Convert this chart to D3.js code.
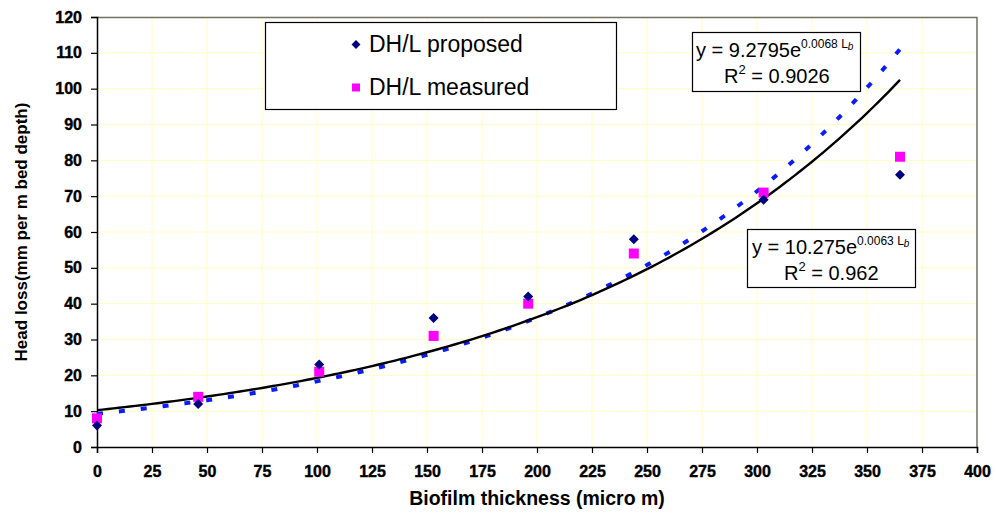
<!DOCTYPE html>
<html>
<head>
<meta charset="utf-8">
<script src="https://cdn.jsdelivr.net/npm/d3@7"></script>
<style>
  body { margin: 0; background: #fff; }
  text { font-family: 'Liberation Sans', Arial, sans-serif; }
</style>
</head>
<body>
<div id="chart"></div>
<script>
// data
const thickness = [0, 46, 101, 153, 196, 244, 303, 365]
const proposed = [6, 12, 23, 36, 42, 58, 69, 76]
const measured = [8, 14, 21, 31, 40, 54, 71, 81]

// exponential fits shown in the boxes
const fitProposed = { a: 9.2795, b: 0.0068, r2: '0.9026' }
const fitMeasured = { a: 10.275, b: 0.0063, r2: '0.962' }

const xTicks = d3.range(0, 401, 25)
const yTicks = d3.range(0, 121, 10)

const W = 996
const H = 514
const margin = { top: 17, right: 19, bottom: 67, left: 97 }
const width = W - margin.left - margin.right
const height = H - margin.top - margin.bottom

const svg = d3.select('#chart')
  .append('svg')
  .attr('width', W)
  .attr('height', H)

const g = svg.append('g')
  .attr('transform', `translate(${margin.left},${margin.top})`)

const x = d3.scaleLinear().domain([0, 400]).range([0, width])
const y = d3.scaleLinear().domain([0, 120]).range([height, 0])

// grid
g.append('g')
  .selectAll('line')
  .data(yTicks.slice(1))
  .enter()
  .append('line')
  .attr('x1', 0).attr('x2', width)
  .attr('y1', d => y(d)).attr('y2', d => y(d))
  .attr('stroke', '#ffffc0')
g.append('g')
  .selectAll('line')
  .data(xTicks.slice(1))
  .enter()
  .append('line')
  .attr('y1', 0).attr('y2', height)
  .attr('x1', d => x(d)).attr('x2', d => x(d))
  .attr('stroke', '#ffffc0')

// top / right border
g.append('path')
  .attr('d', `M0,0.5H${width}V${height}`)
  .attr('fill', 'none')
  .attr('stroke', '#707070')
  .attr('stroke-width', 1.5)

// axes
const xAxis = g.append('g')
  .attr('transform', `translate(0,${height})`)
  .call(d3.axisBottom(x).tickValues(xTicks).tickSize(6).tickPadding(13))
const yAxis = g.append('g')
  .call(d3.axisLeft(y).tickValues(yTicks).tickSize(6).tickPadding(9))

;[xAxis, yAxis].forEach(a => {
  a.select('.domain').attr('stroke', '#000').attr('stroke-width', 1.5)
  a.selectAll('.tick line').attr('stroke', '#000').attr('stroke-width', 1.2)
  a.selectAll('.tick text')
    .attr('font-family', 'Liberation Sans, Arial, sans-serif')
    .attr('font-size', 16)
    .attr('font-weight', 'bold')
    .attr('fill', '#000')
    .attr('stroke', '#000')
    .attr('stroke-width', 0.4)
})
xAxis.selectAll('.tick text').attr('dy', '0.71em')

// trend lines
const curve = fit => d3.range(0, 365.01, 2.5).map(t => [t, fit.a * Math.exp(fit.b * t)])
const line = d3.line().x(d => x(d[0])).y(d => y(d[1]))

g.append('path')
  .datum(curve(fitProposed))
  .attr('d', line)
  .attr('fill', 'none')
  .attr('stroke', '#0a1cff')
  .attr('stroke-width', 4)
  .attr('stroke-dasharray', '6,16')

g.append('path')
  .datum(curve(fitMeasured))
  .attr('d', line)
  .attr('fill', 'none')
  .attr('stroke', '#000')
  .attr('stroke-width', 2.4)

// markers
const pts = thickness.map((t, i) => ({ t, p: proposed[i], m: measured[i] }))

g.selectAll('.sq')
  .data(pts)
  .enter()
  .append('rect')
  .attr('class', 'sq')
  .attr('x', d => x(d.t) - 5)
  .attr('y', d => y(d.m) - 5)
  .attr('width', 10)
  .attr('height', 10)
  .attr('fill', '#ff00ff')

g.selectAll('.dia')
  .data(pts)
  .enter()
  .append('path')
  .attr('class', 'dia')
  .attr('d', d3.symbol(d3.symbolDiamond2, 64))
  .attr('transform', d => `translate(${x(d.t)},${y(d.p)})`)
  .attr('fill', '#000080')

// legend
const legend = svg.append('g')
legend.append('rect')
  .attr('x', 265.5).attr('y', 22.5)
  .attr('width', 351).attr('height', 87)
  .attr('fill', '#fff')
  .attr('stroke', '#000')
  .attr('stroke-width', 1.2)
legend.append('path')
  .attr('d', d3.symbol(d3.symbolDiamond2, 50))
  .attr('transform', 'translate(356,44.5)')
  .attr('fill', '#000080')
legend.append('rect')
  .attr('x', 352).attr('y', 83.5).attr('width', 8).attr('height', 8)
  .attr('fill', '#ff00ff')
legend.append('text')
  .attr('x', 369).attr('y', 52)
  .attr('font-size', 23)
  .text('DH/L proposed')
legend.append('text')
  .attr('x', 369).attr('y', 95)
  .attr('font-size', 23)
  .text('DH/L measured')

// equation boxes
function eqBox (fit, bx, by, bw, bh, x1, x2) {
  const box = svg.append('g')
  box.append('rect')
    .attr('x', bx + 0.5).attr('y', by + 0.5)
    .attr('width', bw).attr('height', bh)
    .attr('fill', '#fff')
    .attr('stroke', '#000')
    .attr('stroke-width', 1.2)
  const t1 = box.append('text')
    .attr('x', x1).attr('y', by + 25)
    .attr('font-size', 20)
  t1.append('tspan').text('y = ' + fit.a + 'e')
  t1.append('tspan').attr('dy', -9).attr('font-size', 12).text(fit.b.toFixed(4) + ' L')
  t1.append('tspan').attr('dy', 2).attr('font-size', 10).attr('font-style', 'italic').text('b')
  const t2 = box.append('text')
    .attr('x', x2).attr('y', by + 51)
    .attr('font-size', 20)
  t2.append('tspan').text('R')
  t2.append('tspan').attr('dy', -9).attr('font-size', 13).text('2')
  t2.append('tspan').attr('dy', 9).text(' = ' + fit.r2)
}
eqBox(fitProposed, 692, 32, 168, 59, 696, 724)
eqBox(fitMeasured, 747, 229, 168, 58, 752, 784)

// axis titles
svg.append('text')
  .attr('x', margin.left + width / 2)
  .attr('y', 505)
  .attr('text-anchor', 'middle')
  .attr('font-size', 19.5)
  .attr('font-weight', 'bold')
  .text('Biofilm thickness (micro m)')

svg.append('text')
  .attr('transform', `translate(27,${margin.top + height / 2}) rotate(-90)`)
  .attr('text-anchor', 'middle')
  .attr('font-size', 17)
  .attr('font-weight', 'bold')
  .text('Head loss(mm per m bed depth)')
</script>
</body>
</html>
